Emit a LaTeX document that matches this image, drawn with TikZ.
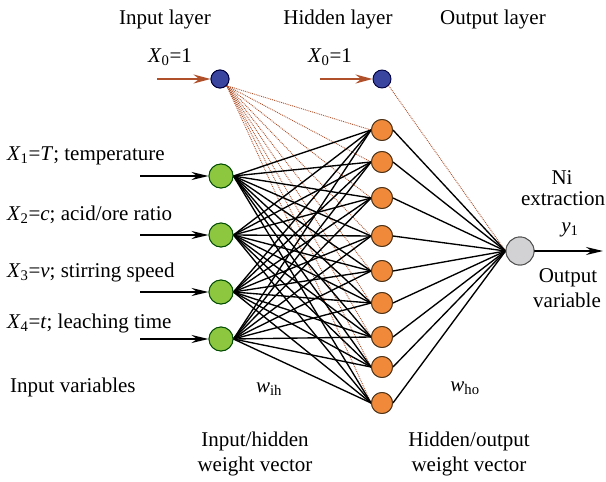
\documentclass[tikz,border=0pt]{standalone}
\usepackage{fontspec}
\setmainfont{Liberation Serif}
\usetikzlibrary{arrows.meta}
\definecolor{biasblue}{HTML}{3A45A0}
\definecolor{inpgreen}{HTML}{8DC63F}
\definecolor{hidorange}{HTML}{F08A3A}
\definecolor{outgray}{HTML}{D2D2D4}
\definecolor{arrred}{HTML}{B0502A}
\begin{document}
\begin{tikzpicture}[x=1pt,y=-1pt,
  font=\fontsize{21}{24}\selectfont,
  neuron/.style={circle,line width=0.9pt,inner sep=0pt},
  biasnode/.style={neuron,fill=biasblue,draw=black!75!blue,minimum size=18pt},
  innode/.style={neuron,fill=inpgreen,draw=black!70!green,minimum size=24pt},
  hidnode/.style={neuron,fill=hidorange,draw=black!60!brown,minimum size=21pt},
  outnode/.style={neuron,fill=outgray,draw=black!70,minimum size=28pt},
  wire/.style={draw=black,line width=1.35pt},
  biaswire/.style={draw=arrred,line width=0.9pt,densely dotted},
  inarrow/.style={draw=black,line width=1.8pt,-{Stealth[length=17pt,width=8pt]}},
  redarrow/.style={draw=arrred,line width=2.2pt,-{Stealth[length=17pt,width=9pt]}},
  lbl/.style={inner sep=0pt,anchor=base}
  ]
\useasboundingbox (0,0) rectangle (606,482);

% titles
\node[lbl] (t1) at (165,24) {Input layer};
\node[lbl] (t2) at (338,24) {Hidden layer};
\node[lbl] (t3) at (493,24) {Output layer};
\node[lbl] (x0a) at (170,62) {\textit{X}\textsubscript{0}=1};
\node[lbl] (x0b) at (330,62) {\textit{X}\textsubscript{0}=1};

% bias nodes
\node[biasnode] (b1) at (220,79) {};
\node[biasnode] (b2) at (382,79) {};
\coordinate (rb1) at (157,79);
\coordinate (rb2) at (320,79);
\draw[redarrow] (rb1) -- (b1.west);
\draw[redarrow] (rb2) -- (b2.west);

% input nodes
\foreach \n/\y in {1/176,2/235,3/292,4/339}{
  \node[innode] (i\n) at (221,\y) {};
  \coordinate (a\n) at (140,\y);
  \draw[inarrow] (a\n) -- (i\n.west);
}

% hidden nodes
\foreach \n/\y in {1/130,2/162,3/198,4/236,5/271,6/303,7/337,8/367,9/403}{
  \node[hidnode] (h\n) at (382,\y) {};
}

% output node
\node[outnode] (o) at (520,251) {};
\coordinate (oe) at (603,251);
\draw[inarrow] (o.east) -- (oe);

% connections
\foreach \h in {1,...,9}{
  \draw[biaswire] (b1.south east) -- (h\h.west);
}
\draw[biaswire] (b2.south east) -- (o.west);
\foreach \i in {1,...,4}{
  \foreach \h in {1,...,9}{
    \draw[wire] (i\i.east) -- (h\h.west);
  }
}
\foreach \h in {1,...,9}{
  \draw[wire] (h\h.east) -- (o.west);
}
% redraw nodes on top
\foreach \n/\y in {1/176,2/235,3/292,4/339}{
  \node[innode] at (221,\y) {};
}
\foreach \n/\y in {1/130,2/162,3/198,4/236,5/271,6/303,7/337,8/367,9/403}{
  \node[hidnode] at (382,\y) {};
}
\node[biasnode] at (220,79) {};
\node[outnode] at (520,251) {};

% left labels
\node[lbl,anchor=base west] (l1) at (7,160) {\textit{X}\textsubscript{1}=\textit{T}; temperature};
\node[lbl,anchor=base west] (l2) at (7,220) {\textit{X}\textsubscript{2}=\textit{c}; acid/ore ratio};
\node[lbl,anchor=base west] (l3) at (7,277) {\textit{X}\textsubscript{3}=\textit{v}; stirring speed};
\node[lbl,anchor=base west] (l4) at (7,328) {\textit{X}\textsubscript{4}=\textit{t}; leaching time};
\node[lbl,anchor=base west] (l5) at (10,392) {Input variables};

% weights
\node[lbl] (wih) at (269,392) {\textit{w}\textsubscript{ih}};
\node[lbl] (who) at (465,391) {\textit{w}\textsubscript{ho}};
\node[lbl] (ih1) at (255,446) {Input/hidden};
\node[lbl] (ih2) at (255,471) {weight vector};
\node[lbl] (ho1) at (469,446) {Hidden/output};
\node[lbl] (ho2) at (469,471) {weight vector};

% right labels
\node[lbl] (r1) at (562,184) {Ni};
\node[lbl] (r2) at (563,205) {extraction};
\node[lbl] (r3) at (570,232) {\textit{y}\textsubscript{1}};
\node[lbl] (r4) at (568,282) {Output};
\node[lbl] (r5) at (567,307) {variable};
\end{tikzpicture}
\end{document}
